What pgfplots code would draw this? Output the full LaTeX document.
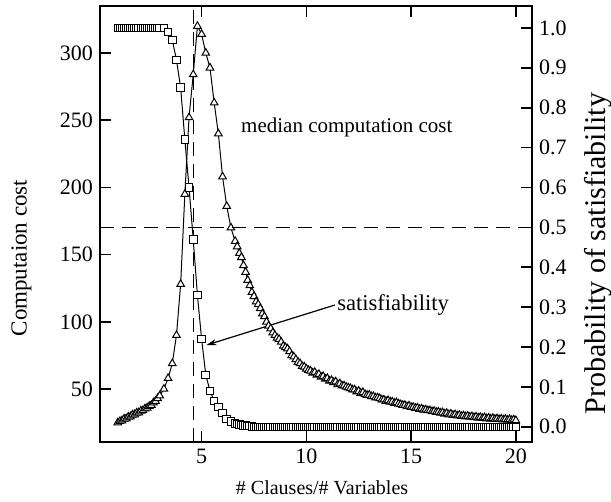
\documentclass[border=0pt]{standalone}
\usepackage{fontspec}
\setmainfont{Liberation Serif}
\usepackage{pgfplots}
\pgfplotsset{compat=1.18}
\usepackage{pgfplotstable}
\usetikzlibrary{arrows.meta}

\pgfplotstableread{
x cost
1.0 25
1.1 26
1.2 26.5
1.3 27.8
1.4 28
1.5 29.2
1.6 29.5
1.7 30.8
1.8 31
1.9 32.3
2.0 32.5
2.1 33.8
2.2 34
2.3 35.4
2.4 36
2.5 37.2
2.6 38
2.7 39.8
2.8 41
2.9 43
3.0 45
3.2 50
3.4 58
3.6 69
3.8 90
4.0 128
4.2 195
4.4 252
4.6 284
4.8 320
5.0 314
5.2 300
5.4 289
5.6 263
5.8 240
6.0 208
6.2 186
6.4 170
6.6 160
6.7 156
6.8 151
6.9 148
7.0 142
7.1 137
7.2 131
7.3 127
7.4 122
7.5 119
7.6 115
7.7 113
7.8 110
7.9 106
8.0 104
8.1 100
8.2 97
8.3 95
8.4 92
8.5 90
8.6 88
8.7 87
8.8 85
8.9 82
9.0 81
9.1 80
9.2 78
9.3 75
9.4 74
9.5 72
9.6 70
9.7 69
9.8 67
9.9 66.5
10.0 65
10.1 64
10.2 63.5
10.3 62
10.4 62.5
10.5 60.5
10.6 61
10.7 59
10.8 59.5
10.9 57.5
11.0 58
11.1 56
11.2 56.5
11.3 55
11.4 55.5
11.5 53.5
11.6 54
11.7 52.5
11.8 52.5
11.9 51.5
12.0 51
12.1 50.5
12.2 49.5
12.3 49.5
12.4 48
12.5 48.5
12.6 47
12.7 47.5
12.8 46
12.9 45.5
13.0 45.5
13.1 44.5
13.2 44.5
13.3 43.5
13.4 43.5
13.5 43
13.6 42
13.7 42
13.8 41
13.9 41.5
14.0 40.5
14.1 40.5
14.2 39.5
14.3 40
14.4 39
14.5 38.5
14.6 38
14.7 38
14.8 37
14.9 37.5
15.0 36.5
15.1 36.5
15.2 35.8
15.3 36
15.4 35
15.5 35.3
15.6 34.5
15.7 34.6
15.8 34
15.9 34
16.0 33.3
16.1 33.5
16.2 32.8
16.3 33
16.4 32.3
16.5 32.5
16.6 31.5
16.7 32
16.8 31
16.9 31.5
17.0 30.6
17.1 31
17.2 30.2
17.3 30.6
17.4 29.8
17.5 30.2
17.6 29.5
17.7 29.9
17.8 29.2
17.9 29.6
18.0 28.9
18.1 29.3
18.2 28.6
18.3 29
18.4 28.3
18.5 28.8
18.6 28
18.7 28.5
18.8 27.8
18.9 28.3
19.0 27.6
19.1 28
19.2 27.4
19.3 27.8
19.4 27.2
19.5 27.6
19.6 27
19.7 27.4
19.8 26.8
19.9 27.2
20.0 26.6
}\costdata

\pgfplotstableread{
x prob
1.0 1.0
1.1 1.0
1.2 1.0
1.3 1.0
1.4 1.0
1.5 1.0
1.6 1.0
1.7 1.0
1.8 1.0
1.9 1.0
2.0 1.0
2.1 1.0
2.2 1.0
2.3 1.0
2.4 1.0
2.5 1.0
2.6 1.0
2.7 1.0
2.8 1.0
2.9 1.0
3.0 1.0
3.2 1.0
3.4 0.99
3.6 0.97
3.8 0.92
4.0 0.85
4.2 0.72
4.4 0.60
4.6 0.47
4.8 0.33
5.0 0.22
5.2 0.13
5.4 0.09
5.6 0.065
5.8 0.05
6.0 0.035
6.2 0.02
6.4 0.014
6.6 0.009
6.7 0.007
6.8 0.006
6.9 0.005
7.0 0.004
7.1 0.003
7.2 0.002
7.3 0.002
7.4 0.001
7.5 0
7.6 0
7.7 0
7.8 0
7.9 0
8.0 0
8.1 0
8.2 0
8.3 0
8.4 0
8.5 0
8.6 0
8.7 0
8.8 0
8.9 0
9.0 0
9.1 0
9.2 0
9.3 0
9.4 0
9.5 0
9.6 0
9.7 0
9.8 0
9.9 0
10.0 0
10.1 0
10.2 0
10.3 0
10.4 0
10.5 0
10.6 0
10.7 0
10.8 0
10.9 0
11.0 0
11.1 0
11.2 0
11.3 0
11.4 0
11.5 0
11.6 0
11.7 0
11.8 0
11.9 0
12.0 0
12.1 0
12.2 0
12.3 0
12.4 0
12.5 0
12.6 0
12.7 0
12.8 0
12.9 0
13.0 0
13.1 0
13.2 0
13.3 0
13.4 0
13.5 0
13.6 0
13.7 0
13.8 0
13.9 0
14.0 0
14.1 0
14.2 0
14.3 0
14.4 0
14.5 0
14.6 0
14.7 0
14.8 0
14.9 0
15.0 0
15.1 0
15.2 0
15.3 0
15.4 0
15.5 0
15.6 0
15.7 0
15.8 0
15.9 0
16.0 0
16.1 0
16.2 0
16.3 0
16.4 0
16.5 0
16.6 0
16.7 0
16.8 0
16.9 0
17.0 0
17.1 0
17.2 0
17.3 0
17.4 0
17.5 0
17.6 0
17.7 0
17.8 0
17.9 0
18.0 0
18.1 0
18.2 0
18.3 0
18.4 0
18.5 0
18.6 0
18.7 0
18.8 0
18.9 0
19.0 0
19.1 0
19.2 0
19.3 0
19.4 0
19.5 0
19.6 0
19.7 0
19.8 0
19.9 0
20.0 0
}\probdata

\begin{document}
\begin{tikzpicture}
\useasboundingbox (-50pt,-30pt) rectangle (255.5pt,221pt);
\begin{axis}[
  scale only axis, width=216pt, height=218pt,
  xmin=0.15, xmax=20.77, ymin=10.6, ymax=335,
  xtick={5,10,15,20}, ytick={50,100,...,300},
  xtick pos=both, xticklabel pos=lower, ytick pos=left,
  tick align=inside, major tick length=5.5pt,
  every tick/.style={black, line width=0.8pt},
  axis line style={line width=1pt},
  /pgf/number format/assume math mode=true,
  ticklabel style={font=\fontsize{11}{13}\selectfont},
  xlabel={\# Clauses/\# Variables},
  ylabel={Computaion cost},
  xlabel style={font=\fontsize{10}{12}\selectfont, at={(axis description cs:0.514,-0.105)}, anchor=center},
  ylabel style={font=\fontsize{11.5}{14}\selectfont, at={(axis description cs:-0.182,0.422)}, anchor=center},
  clip=false,
]
\addplot[black, line width=0.5pt, dash pattern=on 7pt off 4pt] coordinates {(4.62,10.6) (4.62,333)};
\addplot[black, line width=0.5pt, mark=triangle*, mark size=2.2pt,
  mark options={fill=white, draw=black, line width=0.5pt, solid}] table[x=x,y=cost] {\costdata};
\node[font=\fontsize{10.5}{12}\selectfont] at (axis cs:11.93,245) {median computation cost};
\node[font=\fontsize{11.3}{13}\selectfont, anchor=west, inner sep=1pt] (sat) at (axis cs:11.36,112.5) {satisfiability};
\draw[line width=0.6pt, -{Stealth[length=5pt,width=3pt]}] (sat.west) -- (axis cs:5.23,82.7);
\end{axis}
\begin{axis}[
  scale only axis, width=216pt, height=218pt,
  xmin=0.15, xmax=20.77, ymin=-0.038, ymax=1.055,
  axis x line=none, axis y line*=right,
  ytick={0,0.1,...,1.0},
  tick align=inside, major tick length=5.5pt,
  every tick/.style={black, line width=0.8pt},
  axis line style={line width=1pt},
  yticklabel style={/pgf/number format/.cd, fixed, fixed zerofill, precision=1, assume math mode=true, /tikz/.cd, font=\fontsize{11}{13}\selectfont},
  ylabel={Probability of satisfiability},
  ylabel style={font=\fontsize{15}{17}\selectfont, at={(axis description cs:1.153,0.432)}, anchor=center, rotate=0},
  clip=false,
]
\addplot[black, line width=0.5pt, dash pattern=on 7pt off 4pt] coordinates {(0.15,0.5) (20.77,0.5)};
\addplot[black, line width=0.5pt, mark=square*, mark size=1.9pt,
  mark options={fill=white, draw=black, line width=0.5pt, solid}] table[x=x,y=prob] {\probdata};
\end{axis}
\end{tikzpicture}
\end{document}
